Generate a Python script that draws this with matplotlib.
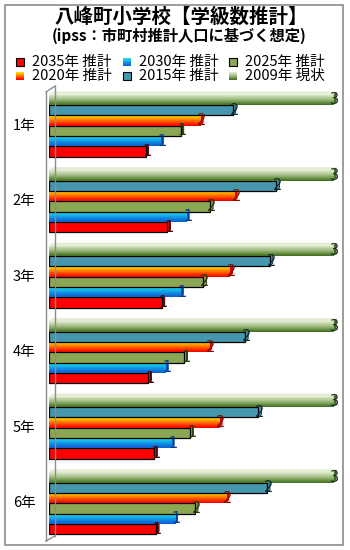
import numpy as np
import matplotlib
matplotlib.use("Agg")
import matplotlib.pyplot as plt
from matplotlib.colors import LinearSegmentedColormap
from matplotlib.patches import Rectangle, Polygon
from matplotlib.lines import Line2D

plt.rcParams['font.family'] = ['Noto Sans CJK JP', 'DejaVu Sans']

# --- data -------------------------------------------------------------
grades = ["1年", "2年", "3年", "4年", "5年", "6年"]
series = ["2009年 現状", "2015年 推計", "2020年 推計", "2025年 推計", "2030年 推計", "2035年 推計"]
v2009 = [3.00, 3.00, 3.00, 3.00, 3.00, 3.00]
v2015 = [1.94, 2.40, 2.33, 2.07, 2.21, 2.30]
v2020 = [1.60, 1.96, 1.91, 1.69, 1.80, 1.87]
v2025 = [1.39, 1.70, 1.63, 1.43, 1.49, 1.54]
v2030 = [1.18, 1.45, 1.39, 1.23, 1.29, 1.33]
v2035 = [1.02, 1.25, 1.19, 1.05, 1.11, 1.13]
values = [v2009, v2015, v2020, v2025, v2030, v2035]
legend_order = ["2035年 推計", "2030年 推計", "2025年 推計",
                "2020年 推計", "2015年 推計", "2009年 現状"]

# --- styles -----------------------------------------------------------
styles = {
    "2009年 現状": dict(grad=["#e3ecd5", "#c2d4a8", "#9cb87c", "#6a9446", "#3f6b22"], face="#9ab77a", edge=None, lab="#1d3319"),
    "2015年 推計": dict(grad=None, face="#4597ae", edge="black", lab="#0f2a33"),
    "2020年 推計": dict(grad=["#ffe000", "#ffb000", "#ff7000", "#ff3000", "#ee0000"], face="#ff7000", edge=None, lab="#7a1000"),
    "2025年 推計": dict(grad=None, face="#8ca753", edge="black", lab="#27340c"),
    "2030年 推計": dict(grad=["#30e6ee", "#19c4ea", "#12a0e6", "#1078dc", "#0a5fd0"], face="#12a0e6", edge=None, lab="#0a3a8a"),
    "2035年 推計": dict(grad=None, face="#ff0000", edge="black", lab="#4a0000"),
}

W, H = 350, 550
fig = plt.figure(figsize=(W / 100, H / 100), dpi=100)
fig.patch.set_facecolor("white")

def fx(px):
    return px / W

def fy(py):
    return 1 - py / H

# outer frame
fig.add_artist(Rectangle((fx(5), fy(545)), fx(343) - fx(5), fy(5) - fy(545),
                         transform=fig.transFigure, fill=False, edgecolor="#8c8c8c", lw=1.2))

fig.text(fx(181), fy(17), "八峰町小学校【学級数推計】", ha="center", va="center",
         fontsize=14, fontweight="bold", color="black")
fig.text(fx(179), fy(36), "(ipss：市町村推計人口に基づく想定)", ha="center", va="center",
         fontsize=11, fontweight="bold", color="black")

# axes
left_px, right_px = 49, 338
top_px, bot_px = 88, 541
ax = fig.add_axes([fx(left_px), fy(bot_px), fx(right_px) - fx(left_px), fy(top_px) - fy(bot_px)])
ax.set_xlim(0, 3.05)
ax.set_ylim(len(grades) - 0.5, -0.5)
ax.axis("off")

# wall lines (3D box edges)
for x0, x1, y0, y1 in [(46, 46, 92, 541), (55, 55, 86, 536),
                        (46, 55, 92, 86), (46, 55, 541, 536)]:
    fig.add_artist(Line2D([fx(x0), fx(x1)], [fy(y0), fy(y1)], transform=fig.transFigure,
                          color="#8c8c8c", lw=1.0))

bar_h = 0.137
dx, dy = 0.032, 0.04
pos = np.arange(len(grades))
n = len(series)

for i, (name, vals) in enumerate(zip(series, values)):
    st = styles[name]
    y = pos + (i - (n - 1) / 2) * bar_h
    z = 10 + (n - i) * 3
    bars = ax.barh(y, vals, height=bar_h, color=st["face"],
                   edgecolor=st["edge"] if st["edge"] else "none",
                   lw=0.9, zorder=z + 1)
    if st["grad"]:
        cmap = LinearSegmentedColormap.from_list(name, st["grad"])
        grad = np.linspace(0, 1, 64).reshape(-1, 1)
    for b, v, yc in zip(bars, vals, y):
        y_top, y_bot = yc - bar_h / 2, yc + bar_h / 2
        # depth faces
        side = Polygon([(v, y_top), (v + dx, y_top - dy), (v + dx, y_bot - dy), (v, y_bot)],
                       closed=True, facecolor=st["grad"][-1] if st["grad"] else st["face"],
                       edgecolor="#222222" if st["edge"] else "none", lw=0.6, zorder=z)
        ax.add_patch(side)
        topf = Polygon([(0, y_top), (dx, y_top - dy), (v + dx, y_top - dy), (v, y_top)],
                       closed=True, facecolor=st["grad"][0] if st["grad"] else st["face"],
                       edgecolor="none", zorder=z)
        ax.add_patch(topf)
        if st["grad"]:
            im = ax.imshow(grad, extent=[0, v, y_bot, y_top], origin="upper",
                           aspect="auto", cmap=cmap, zorder=z + 2, interpolation="bilinear")
            im.set_clip_path(b)

# value labels, drawn last so they sit above every bar
for i, (name, vals) in enumerate(zip(series, values)):
    st = styles[name]
    y = pos + (i - (n - 1) / 2) * bar_h
    for v, yc in zip(vals, y):
        ax.annotate(f"{v:.0f}", xy=(v, yc), xytext=(1, 0), textcoords="offset points",
                    ha="center", va="center", fontsize=10.5, color=st["lab"],
                    family="DejaVu Sans", zorder=100, annotation_clip=False)

ax.set_xlim(0, 3.05)
ax.set_ylim(len(grades) - 0.5, -0.5)

# category labels
for p, g in zip(pos, grades):
    ax.annotate(g, xy=(0, p), xycoords=("axes fraction", "data"),
                xytext=(-18, 0), textcoords="offset points",
                ha="center", va="center", fontsize=10.5, color="black", annotation_clip=False)

# legend
leg_x = [20, 127, 233]
leg_y = [62, 76]
for k, name in enumerate(legend_order):
    st = styles[name]
    cx, cy = leg_x[k % 3], leg_y[k // 3]
    s = 8
    if st["grad"]:
        cmap = LinearSegmentedColormap.from_list(name + "_l", st["grad"])
        lax = fig.add_axes([fx(cx - s / 2), fy(cy + s / 2), fx(s), s / H])
        lax.imshow(np.linspace(0, 1, 32).reshape(-1, 1), aspect="auto", cmap=cmap)
        lax.axis("off")
    else:
        fig.add_artist(Rectangle((fx(cx - s / 2), fy(cy + s / 2)), fx(s), s / H,
                                 transform=fig.transFigure, facecolor=st["face"],
                                 edgecolor="black", lw=0.8))
    fig.text(fx(cx + 12), fy(cy), name, ha="left", va="center", fontsize=10.5, color="black")

fig.savefig("out.png", dpi=100)
